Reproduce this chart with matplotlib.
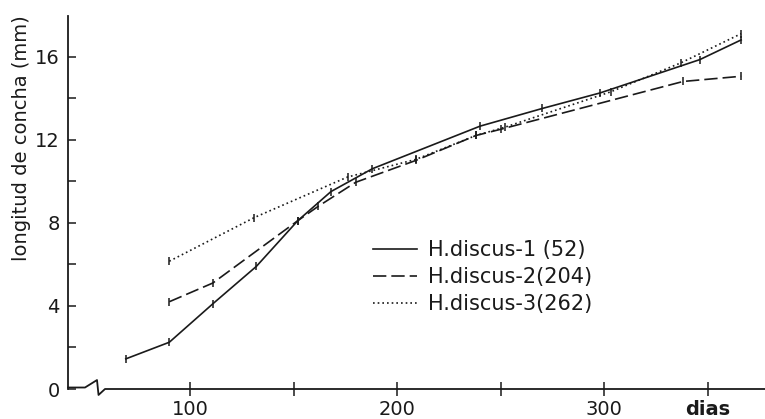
import matplotlib
matplotlib.use("Agg")
import matplotlib.pyplot as plt
from matplotlib.lines import Line2D

# ---- data ----
x1 = [69, 90, 111, 132, 152, 168, 188, 240, 270, 298, 346, 366]
y1 = [1.45, 2.25, 4.1, 5.9, 8.1, 9.5, 10.6, 12.65, 13.5, 14.25, 15.85, 16.8]

x2 = [90, 111, 152, 162, 180, 209, 238, 250, 338, 366]
y2 = [4.2, 5.1, 8.1, 8.8, 9.95, 11.0, 12.2, 12.5, 14.8, 15.05]

x3 = [90, 131, 176, 209, 238, 252, 303, 337, 366]
y3 = [6.15, 8.25, 10.2, 11.05, 12.2, 12.6, 14.3, 15.7, 17.1]

labels = ["H.discus-1 (52)", "H.discus-2(204)", "H.discus-3(262)"]
xticks = [100, 150, 200, 250, 300, 350]
xticklabels = ["100", "", "200", "", "300", "dias"]
yticks = [0, 4, 8, 12, 16]
yminor = [2, 6, 10, 14]
ylabel = "longitud de concha (mm)"

# ---- figure ----
W, H, DPI = 765, 419, 100
fig = plt.figure(figsize=(W / DPI, H / DPI), dpi=DPI)
ax = fig.add_axes([68 / W, 30 / H, 697 / W, 373 / H])

col = "#1a1a1a"
narrow = ["Liberation Sans Narrow", "DejaVu Sans"]

l1, = ax.plot(x1, y1, color=col, lw=1.2, marker="|", ms=6, mew=1.1)
l2, = ax.plot(x2, y2, color=col, lw=1.2, ls=(0, (8, 3)), marker="|", ms=6, mew=1.1)
l3, = ax.plot(x3, y3, color=col, lw=1.2, ls=(0, (1, 1.8)), marker="|", ms=6, mew=1.1)

ax.set_xlim(41.1, 377.5)
ax.set_ylim(0, 17.95)

for s in ["top", "right", "bottom"]:
    ax.spines[s].set_visible(False)
ax.spines["left"].set_color(col)
ax.spines["left"].set_linewidth(1.3)

# bottom axis line with break symbol
bx = [0, 0.0244, 0.0416, 0.0438, 0.0531, 1.0]
by = [0.004, 0.004, 0.024, -0.016, 0.0, 0.0]
ax.plot(bx, by, transform=ax.transAxes, color=col, lw=1.3, clip_on=False)

ax.set_xticks(xticks)
ax.set_xticklabels(xticklabels)
ax.tick_params(axis="x", direction="inout", length=10, width=1.1, color=col, pad=3)
for lab in ax.get_xticklabels():
    lab.set_color(col)
    if lab.get_text() == "dias":
        lab.set_fontfamily("DejaVu Sans")
        lab.set_fontweight("bold")
        lab.set_fontsize(14)
    else:
        lab.set_fontfamily(narrow)
        lab.set_fontsize(14)

ax.set_yticks(yticks)
ax.set_yticks(yminor, minor=True)
ax.tick_params(axis="y", which="both", direction="in", length=6, width=1.1, color=col, pad=6)
for lab in ax.get_yticklabels():
    lab.set_fontfamily(narrow)
    lab.set_fontsize(14)
    lab.set_color(col)

fig.text(22 / W, 1 - 138 / H, ylabel, rotation=90, ha="center", va="center",
         fontsize=14, family="DejaVu Sans", color=col)

handles = [Line2D([], [], color=col, lw=1.2) for _ in range(3)]
handles[1].set_dashes((8, 3))
handles[2].set_dashes((1, 1.8))
leg = ax.legend(handles, labels, loc="upper left", bbox_to_anchor=(0.4376, 0.40),
                frameon=False, borderpad=0, borderaxespad=0, handlelength=2.1,
                handletextpad=0.53, labelspacing=0.35,
                prop={"family": "DejaVu Sans", "size": 15})
for t in leg.get_texts():
    t.set_color(col)

fig.savefig("out.png", dpi=DPI)
